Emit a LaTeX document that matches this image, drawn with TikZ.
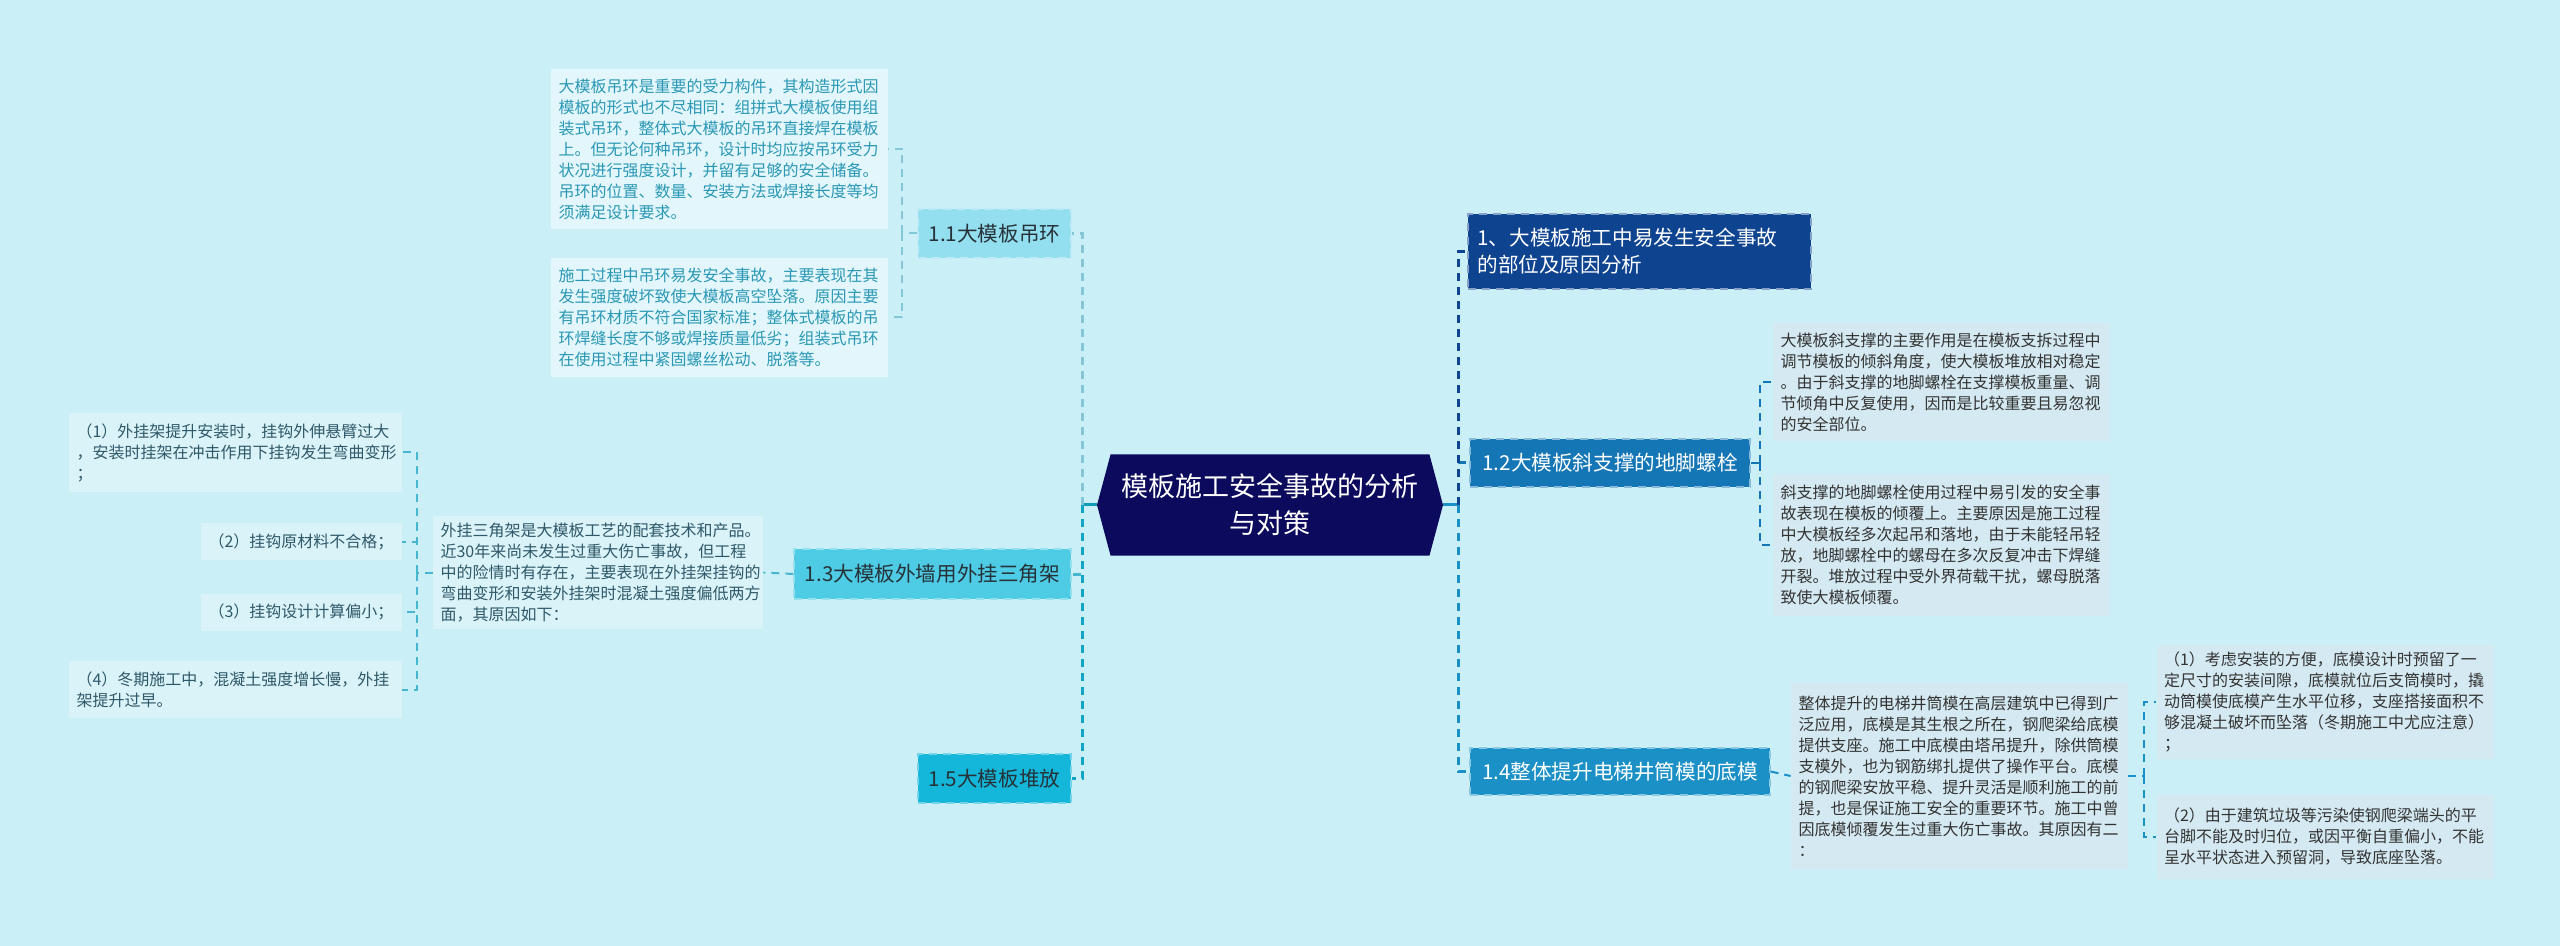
\documentclass[tikz,border=0pt]{standalone}
\usepackage{fontspec}
\setmainfont{Noto Sans CJK SC}
\usetikzlibrary{shapes.symbols}
\definecolor{bg}{HTML}{CAEFF7}
\definecolor{navy}{HTML}{0B0A5C}
\definecolor{rone}{HTML}{0E4390}
\definecolor{rtwo}{HTML}{1576B6}
\definecolor{rfour}{HTML}{1A90C6}
\definecolor{lone}{HTML}{93DEEF}
\definecolor{lthree}{HTML}{4ECBE5}
\definecolor{lfive}{HTML}{14B6DA}
\definecolor{txtdark}{HTML}{263238}
\definecolor{tealtxt}{HTML}{2A98B5}
\definecolor{slatetxt}{HTML}{2F5868}
\definecolor{greytxt}{HTML}{333333}
\definecolor{boxa}{HTML}{E2F6FB}
\definecolor{boxb}{HTML}{D9F3F9}
\definecolor{boxc}{HTML}{D4E9F1}
\tikzset{
  dsh/.style={dash pattern=on 4pt off 3pt},
  mainline/.style={dsh, line width=1.5pt},
  leafline/.style={dsh, line width=1pt},
  lvlone/.style={inner sep=0pt, font=\fontsize{10.3}{13.5}\selectfont, dsh, line width=0.6pt},
  leafbox/.style={inner xsep=3.75pt, inner ysep=0pt, align=left, text width=161pt,
    font=\fontsize{8}{10.5}\selectfont},
}
\begin{document}
\begin{tikzpicture}[x=0.5pt,y=-0.5pt]
\fill[bg] (0,0) rectangle (2560,946);
\useasboundingbox (0,0) rectangle (2560,946);

% central node
\node[signal, signal to=west and east, signal pointer angle=150, fill=navy,
  minimum width=173pt, minimum height=50.5pt, inner sep=0pt, text=white, align=center,
  font=\fontsize{13.5}{18.5}\selectfont] (C) at (1270,505) {模板施工安全事故的分析\\与对策};

% left level one
\node[lvlone, fill=lone, draw=lone!60!white, text=txtdark, minimum width=76.5pt, minimum height=24.5pt] (N11) at (994.5,233.5) {1.1大模板吊环};
\node[lvlone, fill=lthree, draw=lthree!60!white, text=txtdark, minimum width=138.5pt, minimum height=25pt] (N13) at (932.5,574) {1.3大模板外墙用外挂三角架};
\node[lvlone, fill=lfive, draw=lfive!60!white, text=txtdark, minimum width=76.5pt, minimum height=24.5pt] (N15) at (994.5,778.5) {1.5大模板堆放};

% right level one
\node[lvlone, fill=rone, draw=rone!50!white, text=white, align=left, text width=162pt, inner xsep=4.75pt, minimum height=37.5pt] (R1) at (1639.5,251.5) {1、大模板施工中易发生安全事故\\的部位及原因分析};
\node[lvlone, fill=rtwo, draw=rtwo!50!white, text=white, minimum width=140pt, minimum height=24pt] (N12) at (1610,463) {1.2大模板斜支撑的地脚螺栓};
\node[lvlone, fill=rfour, draw=rfour!50!white, text=white, minimum width=150pt, minimum height=23.5pt] (N14) at (1620,771.5) {1.4整体提升电梯井筒模的底模};

% leaves of 1.1
\node[leafbox, fill=boxa, text=tealtxt, minimum height=80pt] (L11a) at (719.5,149) {大模板吊环是重要的受力构件，其构造形式因\\模板的形式也不尽相同：组拼式大模板使用组\\装式吊环，整体式大模板的吊环直接焊在模板\\上。但无论何种吊环，设计时均应按吊环受力\\状况进行强度设计，并留有足够的安全储备。\\吊环的位置、数量、安装方法或焊接长度等均\\须满足设计要求。};
\node[leafbox, fill=boxa, text=tealtxt, minimum height=59.5pt] (L11b) at (719.5,317.5) {施工过程中吊环易发安全事故，主要表现在其\\发生强度破坏致使大模板高空坠落。原因主要\\有吊环材质不符合国家标准；整体式模板的吊\\环焊缝长度不够或焊接质量低劣；组装式吊环\\在使用过程中紧固螺丝松动、脱落等。};

% leaves of 1.3
\node[leafbox, fill=boxb, text=slatetxt, text width=157.5pt, minimum height=56.5pt] (L13) at (598,572.5) {外挂三角架是大模板工艺的配套技术和产品。\\近30年来尚未发生过重大伤亡事故，但工程\\中的险情时有存在，主要表现在外挂架挂钩的\\弯曲变形和安装外挂架时混凝土强度偏低两方\\面，其原因如下：};
\node[leafbox, fill=boxb, text=slatetxt, text width=159pt, minimum height=39.5pt] (P1) at (235.5,452.5) {（1）外挂架提升安装时，挂钩外伸悬臂过大\\，安装时挂架在冲击作用下挂钩发生弯曲变形\\；};
\node[leafbox, fill=boxb, text=slatetxt, text width=93pt, minimum height=18.5pt] (P2) at (301.5,541.5) {（2）挂钩原材料不合格；};
\node[leafbox, fill=boxb, text=slatetxt, text width=93pt, minimum height=18.5pt] (P3) at (301.5,612) {（3）挂钩设计计算偏小；};
\node[leafbox, fill=boxb, text=slatetxt, text width=159pt, minimum height=28.5pt] (P4) at (235.5,689.5) {（4）冬期施工中，混凝土强度增长慢，外挂\\架提升过早。};

% leaves of 1.2
\node[leafbox, fill=boxc, text=greytxt, minimum height=59pt] (L12a) at (1941.5,382) {大模板斜支撑的主要作用是在模板支拆过程中\\调节模板的倾斜角度，使大模板堆放相对稳定\\。由于斜支撑的地脚螺栓在支撑模板重量、调\\节倾角中反复使用，因而是比较重要且易忽视\\的安全部位。};
\node[leafbox, fill=boxc, text=greytxt, minimum height=71pt] (L12b) at (1941.5,545) {斜支撑的地脚螺栓使用过程中易引发的安全事\\故表现在模板的倾覆上。主要原因是施工过程\\中大模板经多次起吊和落地，由于未能轻吊轻\\放，地脚螺栓中的螺母在多次反复冲击下焊缝\\开裂。堆放过程中受外界荷载干扰，螺母脱落\\致使大模板倾覆。};

% leaves of 1.4
\node[leafbox, fill=boxc, text=greytxt, minimum height=93pt] (L14) at (1959.5,776) {整体提升的电梯井筒模在高层建筑中已得到广\\泛应用，底模是其生根之所在，钢爬梁给底模\\提供支座。施工中底模由塔吊提升，除供筒模\\支模外，也为钢筋绑扎提供了操作平台。底模\\的钢爬梁安放平稳、提升灵活是顺利施工的前\\提，也是保证施工安全的重要环节。施工中曾\\因底模倾覆发生过重大伤亡事故。其原因有二\\：};
\node[leafbox, fill=boxc, text=greytxt, minimum height=57pt] (Q1) at (2325,702) {（1）考虑安装的方便，底模设计时预留了一\\定尺寸的安装间隙，底模就位后支筒模时，撬\\动筒模使底模产生水平位移，支座搭接面积不\\够混凝土破坏而坠落（冬期施工中尤应注意）\\；};
\node[leafbox, fill=boxc, text=greytxt, minimum height=42pt] (Q2) at (2325,837) {（2）由于建筑垃圾等污染使钢爬梁端头的平\\台脚不能及时归位，或因平衡自重偏小，不能\\呈水平状态进入预留洞，导致底座坠落。};

% main connectors left
\coordinate (jl) at (1082,505);
\draw[line width=1.5pt, color=lfive!85!black] (C.west) -- (jl);
\draw[mainline, lone!90!black] (jl) |- (N11.east);
\draw[mainline, lthree!90!black] (jl) |- (N13.east);
\draw[mainline, lfive!90!black] (jl) |- (N15.east);

% main connectors right
\coordinate (jr) at (1458,505);
\draw[line width=1.5pt, color=rfour] (C.east) -- (jr);
\draw[mainline, rtwo] (jr) |- (N12.west);
\draw[mainline, rfour] (jr) |- (N14.west);
\draw[mainline, rone] (jr) |- (R1.west);

% 1.1 children
\coordinate (j11) at (902,233.5);
\draw[leafline, lone!90!black] (N11.west) -- (j11);
\draw[leafline, lone!90!black] (j11) |- (L11a.east);
\draw[leafline, lone!90!black] (j11) |- (L11b.east);

% 1.3 children
\draw[leafline, lthree!90!black] (N13.west) -- (L13.east);
\coordinate (j13) at (417,572.5);
\draw[leafline, lthree!90!black] (L13.west) -- (j13);
\draw[leafline, lthree!90!black] (j13) |- (P1.east);
\draw[leafline, lthree!90!black] (j13) |- (P2.east);
\draw[leafline, lthree!90!black] (j13) |- (P3.east);
\draw[leafline, lthree!90!black] (j13) |- (P4.east);

% 1.2 children
\coordinate (j12) at (1760,463);
\draw[leafline, rtwo] (N12.east) -- (j12);
\draw[leafline, rtwo] (j12) |- (L12a.west);
\draw[leafline, rtwo] (j12) |- (L12b.west);

% 1.4 children
\draw[leafline, rfour] (N14.east) -- (L14.west);
\coordinate (j14) at (2144,776);
\draw[leafline, rfour] (L14.east) -- (j14);
\draw[leafline, rfour] (j14) |- (Q1.west);
\draw[leafline, rfour] (j14) |- (Q2.west);
\end{tikzpicture}
\end{document}
